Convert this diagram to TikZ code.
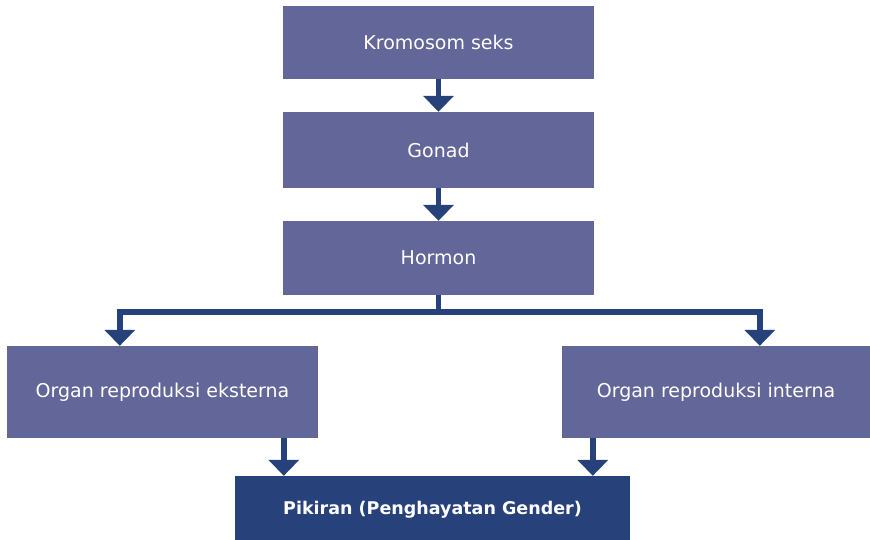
\documentclass[tikz,border=0pt]{standalone}
\usepackage{fontspec}
\setmainfont{DejaVu Sans}
\usetikzlibrary{arrows.meta,calc}
\definecolor{boxfill}{RGB}{99,102,152}
\definecolor{darkblue}{RGB}{39,65,122}
\tikzset{
  box/.style={rectangle, fill=boxfill, text=white, inner sep=0pt,
    font=\fontsize{19}{22}\selectfont},
  mainbox/.style={rectangle, fill=darkblue, text=white, inner sep=0pt,
    font=\fontsize{17.5}{21}\selectfont\bfseries},
  conn/.style={draw=darkblue, line width=5.5pt, line join=miter,
    -{Triangle[width=30pt,length=16pt]}}
}
\begin{document}
\begin{tikzpicture}[x=1pt,y=-1pt]
\useasboundingbox (0,0) rectangle (870,539);
\node[box, minimum width=311pt, minimum height=73pt] (krom) at (438.5,42.5) {Kromosom seks};
\node[box, minimum width=311pt, minimum height=76pt] (gonad) at (438.5,150) {Gonad};
\node[box, minimum width=311pt, minimum height=74pt] (hormon) at (438.5,258) {Hormon};
\node[box, minimum width=311pt, minimum height=92pt] (eks) at (162.5,392) {Organ reproduksi eksterna};
\node[box, minimum width=308pt, minimum height=92pt] (int) at (716,392) {Organ reproduksi interna};
\node[mainbox, minimum width=395pt, minimum height=68pt] (pik) at (432.5,510) {Pikiran (Penghayatan Gender)};
\draw[conn] (krom.south) -- (gonad.north);
\draw[conn] (gonad.south) -- (hormon.north);
\draw[conn] (hormon.south) -- ++(0,17) -| ([xshift=113pt]eks.north west);
\draw[conn] (hormon.south) -- ++(0,17) -| ([xshift=198pt]int.north west);
\draw[conn] ([xshift=277pt]eks.south west) -- ([xshift=277pt]eks.south west |- pik.north);
\draw[conn] ([xshift=31pt]int.south west) -- ([xshift=31pt]int.south west |- pik.north);
\end{tikzpicture}
\end{document}
